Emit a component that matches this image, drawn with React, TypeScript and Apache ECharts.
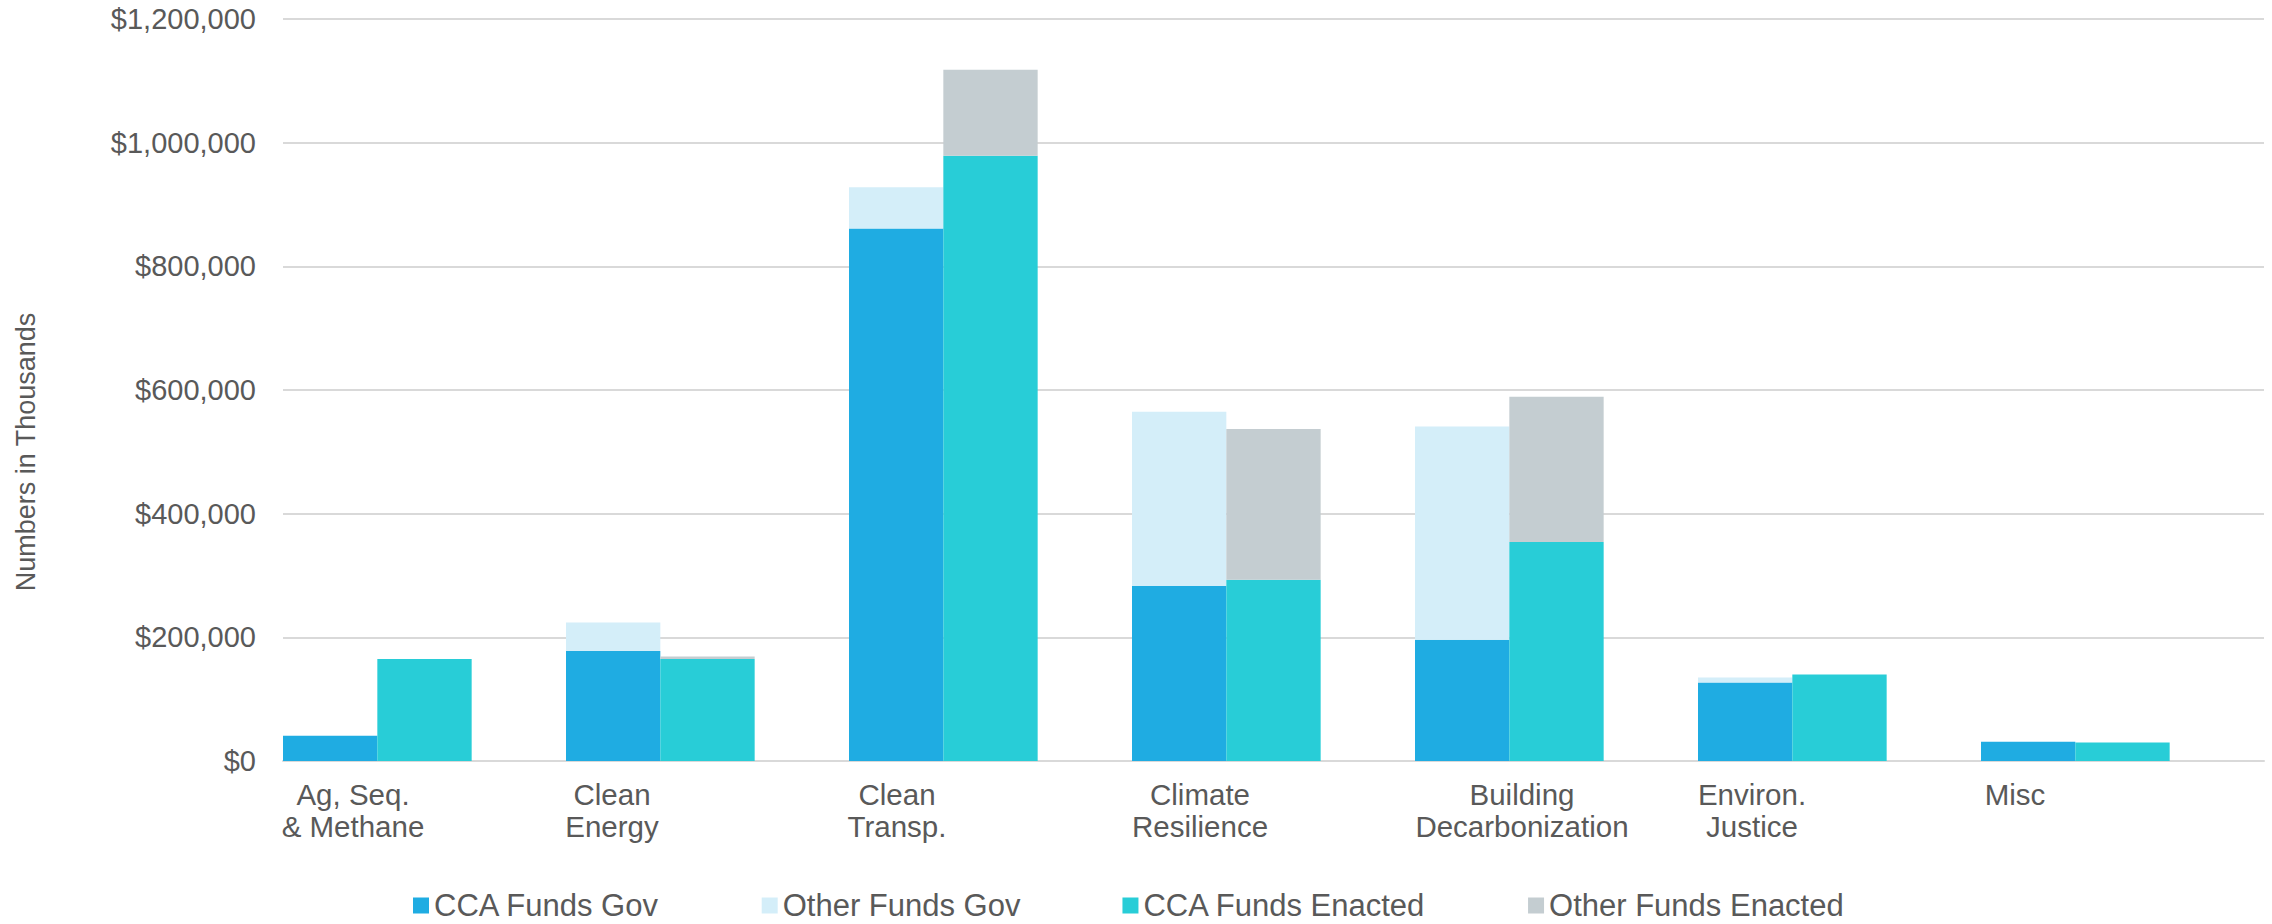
import React, { useEffect, useRef } from "react";
import * as echarts from "echarts";

const categories = [
  "Ag, Seq.\n& Methane",
  "Clean\nEnergy",
  "Clean\nTransp.",
  "Climate\nResilience",
  "Building\nDecarbonization",
  "Environ.\nJustice",
  "Misc",
];
const ccaFundsGov = [41000, 178000, 861000, 283000, 196000, 127000, 31000];
const otherFundsGov = [0, 46000, 67000, 282000, 345000, 8000, 0];
const ccaFundsEnacted = [165000, 165000, 979000, 293000, 354000, 140000, 30000];
const otherFundsEnacted = [0, 4000, 139000, 244000, 235000, 0, 0];
const yTicks = [0, 200000, 400000, 600000, 800000, 1000000, 1200000];

// label right-padding used to shift each category label toward its group (style only)
const labelShift = [143, 191, 187, 147, 69, 175, 215];

const FONT = '"Liberation Sans", Arial, sans-serif';
const TEXT = "#595959";

export default function App() {
  const ref = useRef<HTMLDivElement>(null);
  useEffect(() => {
    if (!ref.current) return;
    const chart = echarts.init(ref.current, undefined, { renderer: "svg" });
    const nz = (arr: number[]) => arr.map((v) => (v === 0 ? null : v));
    chart.setOption({
      animation: false,
      backgroundColor: "#ffffff",
      textStyle: { fontFamily: FONT },
      grid: { left: 283, right: 8, top: 19, bottom: 163, outerBoundsMode: "none" },
      legend: {
        data: ["CCA Funds Gov", "Other Funds Gov", "CCA Funds Enacted", "Other Funds Enacted"],
        left: 408,
        top: 885,
        icon: "rect",
        itemWidth: 16,
        itemHeight: 16,
        itemGap: 102,
        textStyle: { fontSize: 31, color: TEXT, fontFamily: FONT, lineHeight: 30 },
      },
      graphic: [
        {
          type: "text",
          x: 26,
          y: 452,
          rotation: Math.PI / 2,
          style: {
            text: "Numbers in Thousands",
            fontSize: 27,
            fontFamily: FONT,
            fill: TEXT,
            align: "center",
            verticalAlign: "middle",
          },
        },
      ],
      xAxis: {
        type: "category",
        data: categories.map((c, i) => ({
          value: c,
          textStyle: { padding: [0, labelShift[i], 0, 0] },
        })),
        boundaryGap: true,
        axisTick: { show: false },
        axisLine: { lineStyle: { color: "#D9D9D9", width: 2 } },
        axisLabel: {
          interval: 0,
          fontSize: 29.5,
          lineHeight: 32,
          color: TEXT,
          fontFamily: FONT,
          margin: 17,
          align: "center",
        },
      },
      yAxis: {
        type: "value",
        min: yTicks[0],
        max: yTicks[yTicks.length - 1],
        interval: yTicks[1] - yTicks[0],
        axisLine: { show: false },
        axisTick: { show: false },
        splitLine: { lineStyle: { color: "#D9D9D9", width: 2 } },
        axisLabel: {
          fontSize: 29,
          color: TEXT,
          fontFamily: FONT,
          margin: 27,
          formatter: (v: number) => "$" + v.toLocaleString("en-US"),
        },
      },
      series: [
        {
          name: "CCA Funds Gov",
          type: "bar",
          stack: "gov",
          barGap: "0%",
          barCategoryGap: "0%",
          itemStyle: { color: "#1FACE2" },
          data: nz(ccaFundsGov),
        },
        {
          name: "Other Funds Gov",
          type: "bar",
          stack: "gov",
          itemStyle: { color: "#D4EEF9" },
          data: nz(otherFundsGov),
        },
        {
          name: "CCA Funds Enacted",
          type: "bar",
          stack: "enacted",
          itemStyle: { color: "#28CDD7" },
          data: nz(ccaFundsEnacted),
        },
        {
          name: "Other Funds Enacted",
          type: "bar",
          stack: "enacted",
          itemStyle: { color: "#C4CDD1" },
          data: nz(otherFundsEnacted),
        },
        {
          name: "spacer",
          type: "bar",
          stack: "spacer",
          data: categories.map(() => null),
        },
      ],
    });
    return () => chart.dispose();
  }, []);
  return (
    <div
      ref={ref}
      style={{ position: "fixed", left: 0, top: 0, width: 2272, height: 924 }}
    />
  );
}
